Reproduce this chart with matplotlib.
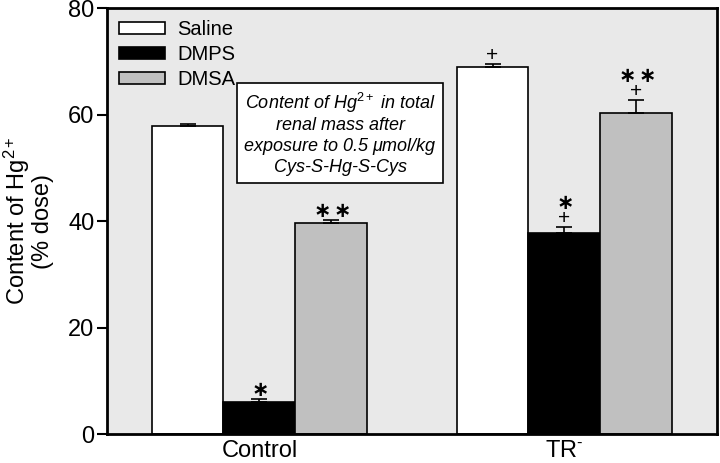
import matplotlib
matplotlib.use('Agg')
import matplotlib.pyplot as plt
import numpy as np

# Data
groups = ['Control', 'TR$^{\u2010}$']
treatments = ['Saline', 'DMPS', 'DMSA']
saline = [57.8, 69.0]
saline_err = [0.4, 0.4]
dmps = [6.1, 37.8]
dmps_err = [0.4, 1.0]
dmsa = [39.7, 60.3]
dmsa_err = [0.5, 2.4]
# tanda signifikansi
bintang = '${\\mathbf{\\ast}}$'
bintang2 = '${\\mathbf{\\ast}}\\,{\\mathbf{\\ast}}$'
marks_saline = ['', '+']
marks_dmps = [bintang, bintang + '\n+']
marks_dmsa = [bintang2, bintang2 + '\n+']

plt.rcParams['font.family'] = ['Liberation Sans', 'DejaVu Sans']
plt.rcParams['mathtext.fontset'] = 'custom'
plt.rcParams['mathtext.rm'] = 'Liberation Sans'
plt.rcParams['mathtext.it'] = 'Liberation Sans:italic'
plt.rcParams['mathtext.default'] = 'regular'

fig = plt.figure(figsize=(7.2, 4.63), dpi=100)
ax = fig.add_axes([0.1486, 0.0626, 0.8472, 0.9201])
ax.set_facecolor('#e9e9e9')

x = np.array([0.5, 1.5])
w = 0.236
warna = ['white', 'black', '#c0c0c0']
series = [(saline, saline_err, marks_saline),
          (dmps, dmps_err, marks_dmps),
          (dmsa, dmsa_err, marks_dmsa)]

for i, (vals, errs, marks) in enumerate(series):
    pos = x + (i - 1) * w
    ax.bar(pos, vals, w, color=warna[i], edgecolor='black', linewidth=1.2,
           label=treatments[i], zorder=2)
    ax.errorbar(pos, vals, yerr=[np.zeros(2), errs], fmt='none', ecolor='black',
                elinewidth=1.2, capsize=6, capthick=1.2, zorder=3)
    for p, v, e, m in zip(pos, vals, errs, marks):
        if m:
            ax.annotate(m, (p, v + e), xytext=(0, -0.7), textcoords='offset points',
                        ha='center', va='bottom', fontsize=15, linespacing=0.75,
                        math_fontfamily='dejavusans')

ax.set_xlim(0, 2)
ax.set_ylim(0, 80)
ax.set_yticks([0, 20, 40, 60, 80])
ax.set_xticks(x)
ax.set_xticklabels(groups)
ax.tick_params(axis='x', length=0, labelsize=17, pad=4)
ax.tick_params(axis='y', direction='out', length=7, width=1.5, labelsize=17, pad=2)
for s in ax.spines.values():
    s.set_linewidth(2)

ax.set_ylabel('Content of Hg$^{2+}$\n(% dose)', fontsize=17, linespacing=1.0, labelpad=10)

leg = ax.legend(loc='upper left', frameon=False, fontsize=14.5, handlelength=2.3,
                handleheight=0.6, handletextpad=0.6, labelspacing=0.3,
                borderaxespad=0.3, borderpad=0.3)

ax.text(0.382, 0.705, 'Content of Hg$^{\\mathit{2+}}$ in total\nrenal mass after\nexposure to 0.5 $\\mathit{\u03bc}$mol/kg\nCys-S-Hg-S-Cys',
        transform=ax.transAxes, ha='center', va='center', fontsize=13,
        style='italic', linespacing=1.15,
        bbox=dict(boxstyle='square,pad=0.35', facecolor='white', edgecolor='black', linewidth=1.2))

plt.savefig('out.png', dpi=100)
